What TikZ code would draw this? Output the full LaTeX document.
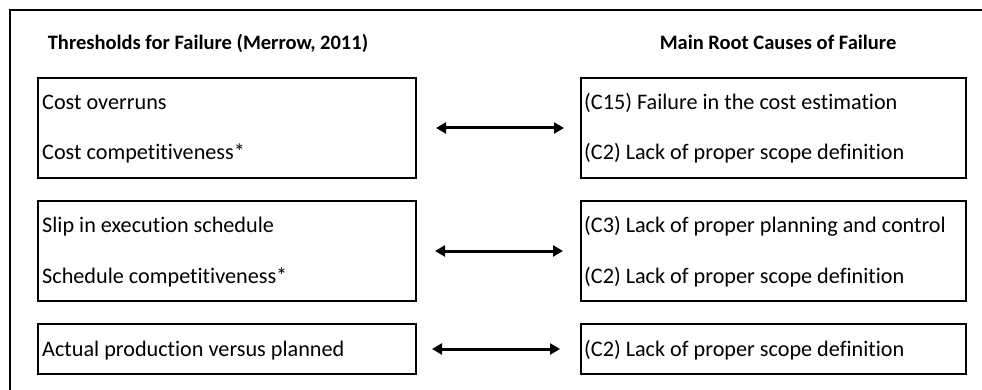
\documentclass[tikz,border=0pt]{standalone}
\usepackage{fontspec}
\setmainfont{Carlito}[Ligatures={NoCommon,NoRequired,NoContextual},RawFeature={-liga;-dlig;-clig}]
\usetikzlibrary{arrows.meta}

\begin{document}
\begin{tikzpicture}[x=1pt,y=-1pt,
  box/.style={draw=black,line width=2pt,anchor=north west,inner sep=0pt,
              minimum width=#1},
  box/.default=378pt,
  txt/.style={anchor=base west,inner sep=0pt,font=\fontsize{22.2}{26}\selectfont},
  head/.style={anchor=base,inner sep=0pt,font=\fontsize{20.5}{24}\selectfont\bfseries},
  link/.style={{Triangle[length=10pt,width=11pt]}-{Triangle[length=10pt,width=11pt]},
               line width=3pt}]
\useasboundingbox (0,0) rectangle (982,390);

% open frame: top and left edges only
\draw[line width=2.5pt] (10,390) -- (10,10) -- (982,10);

% column headings
\node[head] (hl) at (208,50) {Thresholds for Failure (Merrow, 2011)};
\node[head] (hr) at (778,50) {Main Root Causes of Failure};

% left column boxes
\node[box, minimum height=100pt] (L1) at (37,77) {};
\node[box, minimum height=100pt] (L2) at (37,200) {};
\node[box, minimum height=50pt]  (L3) at (37,323) {};

% right column boxes
\node[box=385pt, minimum height=100pt] (R1) at (580,77) {};
\node[box=385pt, minimum height=100pt] (R2) at (580,200) {};
\node[box=385pt, minimum height=50pt]  (R3) at (580,323) {};

% left texts
\node[txt] (l1a) at (42,110) {Cost overruns};
\node[txt] (l1b) at (42,160) {Cost competitiveness*};
\node[txt] (l2a) at (42,233) {Slip in execution schedule};
\node[txt] (l2b) at (42,283) {Schedule competitiveness*};
\node[txt] (l3a) at (42,356) {Actual production versus planned};

% right texts
\node[txt] (r1a) at (584,110) {(C15) Failure in the cost estimation};
\node[txt] (r1b) at (584,160) {(C2) Lack of proper scope definition};
\node[txt] (r2a) at (584,233) {(C3) Lack of proper planning and control};
\node[txt] (r2b) at (584,283) {(C2) Lack of proper scope definition};
\node[txt] (r3a) at (584,356) {(C2) Lack of proper scope definition};

% two-way links between the columns
\draw[link, shorten <=19pt, shorten >=16pt] (L1) -- (R1);
\draw[link, shorten <=18pt, shorten >=17pt] (L2) -- (R2);
\draw[link, shorten <=15pt, shorten >=20pt] (L3) -- (R3);
\end{tikzpicture}
\end{document}
